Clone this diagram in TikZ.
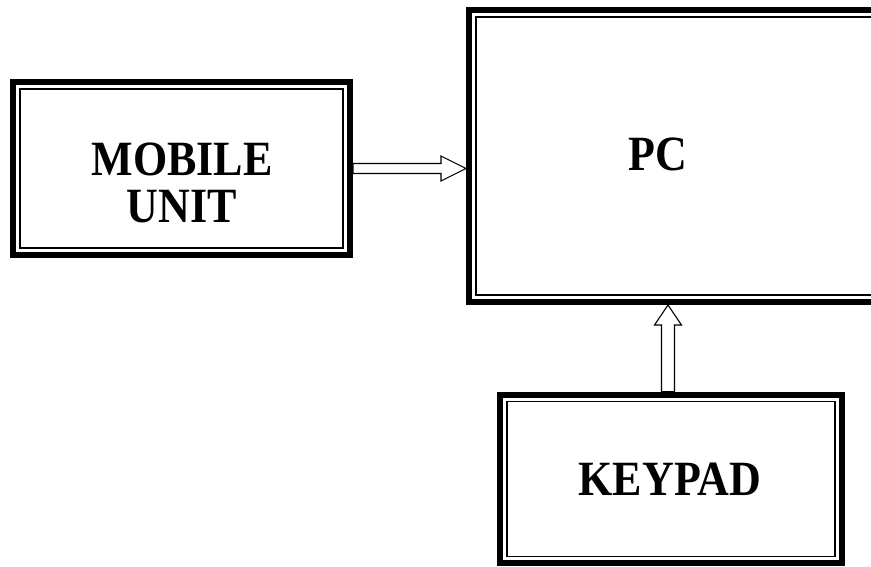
\documentclass[tikz,border=0pt]{standalone}
\usepackage{fontspec}
\setmainfont{Liberation Serif}
\usepackage{tikz}
\usetikzlibrary{positioning, calc}
\tikzstyle{frame} = [rectangle, draw=black, line width=6pt, inner sep=0pt,
  path picture={\draw [black, line width=1.3pt]
    ([shift={(7pt,-7pt)}]path picture bounding box.north west) rectangle
    ([shift={(-7pt,7pt)}]path picture bounding box.south east);}]
\tikzstyle{caption} = [align=center, inner sep=0pt, yscale=1.12, transform shape,
  font=\bfseries\fontsize{44}{42}\selectfont]
\tikzstyle{hollow} = [draw=black, line width=1.1pt, fill=white, line join=miter]

\begin{document}
\begin{tikzpicture}[x=1pt, y=-1pt]
    \useasboundingbox (0,0) rectangle (871,567);
    \node (Mobile) [frame, minimum width=337pt, minimum height=173pt] at (181.5,168.5) {};
    \node (Pc) [frame, minimum width=440pt, minimum height=292pt] at (689,156) {};
    \node (Keypad) [frame, minimum width=342pt, minimum height=168.5pt] at (671,479) {};
    \node (MobileText) [caption] at (182,183) {MOBILE\\UNIT};
    \node (PcText) [caption] at (658,154) {PC};
    \node (KeypadText) [caption] at ([xshift=-1pt]Keypad.center) {KEYPAD};
    % mobile unit -> pc
    \coordinate (Tip1) at (Pc.west |- Mobile.east);
    \draw [hollow] ([yshift=5pt]Mobile.east) -- ([xshift=-25pt,yshift=5pt]Tip1)
        -- ([xshift=-25pt,yshift=12.5pt]Tip1) -- (Tip1)
        -- ([xshift=-25pt,yshift=-12.5pt]Tip1) -- ([xshift=-25pt,yshift=-5pt]Tip1)
        -- ([yshift=-5pt]Mobile.east) -- cycle;
    % keypad -> pc
    \coordinate (Base2) at ([xshift=-3pt]Keypad.north);
    \coordinate (Tip2) at (Base2 |- Pc.south);
    \draw [hollow] ([xshift=-6.5pt]Base2) -- ([xshift=-6.5pt,yshift=-20pt]Tip2)
        -- ([xshift=-13.5pt,yshift=-20pt]Tip2) -- (Tip2)
        -- ([xshift=13.5pt,yshift=-20pt]Tip2) -- ([xshift=6.5pt,yshift=-20pt]Tip2)
        -- ([xshift=6.5pt]Base2) -- cycle;
\end{tikzpicture}
\end{document}
